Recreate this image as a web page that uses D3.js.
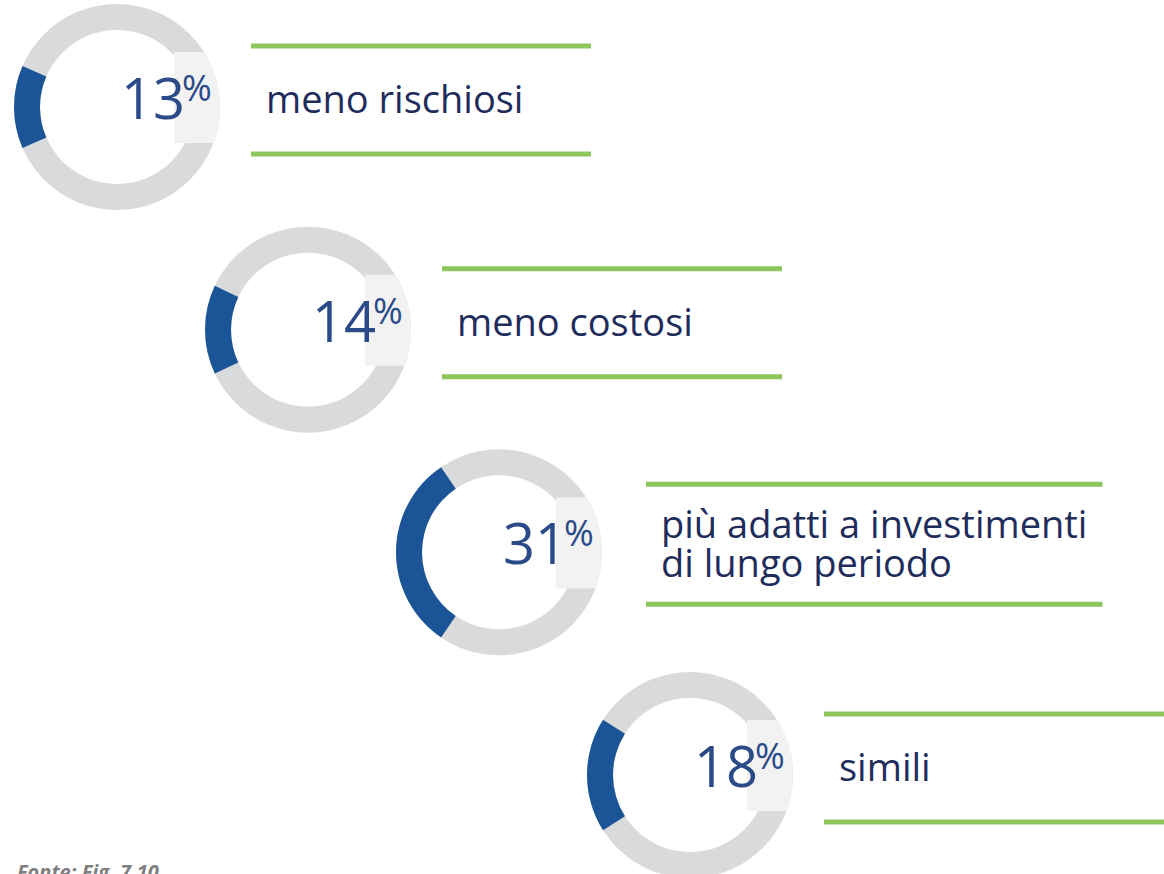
<!DOCTYPE html>
<html>
<head>
<meta charset="utf-8">
<script src="https://cdn.jsdelivr.net/npm/d3@7"></script>
<style>
  body { margin: 0; background: #fff; }
  svg { display: block; }
</style>
</head>
<body>
<script>
// data
const shares = [13, 14, 31, 18];
const labels = [
  ['meno rischiosi'],
  ['meno costosi'],
  ['più adatti a investimenti', 'di lungo periodo'],
  ['simili']
];
const source = 'Fonte: Fig. 7.10';

const W = 1164, H = 874;
const svg = d3.select('body').append('svg')
  .attr('width', W)
  .attr('height', H);

const idx = d3.range(shares.length);
// donuts step down diagonally
const x = d3.scalePoint().domain(idx).range([117, 690]);
const y = d3.scalePoint().domain(idx).range([107, 775]);
const ang = d3.scaleLinear().domain([0, 100]).range([0, 2 * Math.PI]);

const rOut = 103, rIn = 77;
const ring = d3.arc().innerRadius(rIn).outerRadius(rOut);

const defs = svg.append('defs');
defs.append('clipPath').attr('id', 'disc')
  .append('circle').attr('r', rOut);

const g = svg.selectAll('g.item')
  .data(idx)
  .join('g')
    .attr('class', 'item')
    .attr('transform', i => `translate(${x(i)},${y(i)})`);

// grey ring
g.append('path')
  .attr('d', ring({startAngle: 0, endAngle: 2 * Math.PI}))
  .attr('fill', '#d9dadc');

// light box behind the number, cut by the ring
g.append('rect')
  .attr('clip-path', 'url(#disc)')
  .attr('x', 57).attr('y', -55)
  .attr('width', 60).attr('height', 91)
  .attr('fill', '#f2f2f3');

// blue share, centred on the left side
g.append('path')
  .attr('d', i => ring({
    startAngle: -Math.PI / 2 - ang(shares[i]) / 2,
    endAngle: -Math.PI / 2 + ang(shares[i]) / 2
  }))
  .attr('fill', '#1c5597');

// number + percent
const num = g.append('text')
  .attr('x', 4).attr('y', 12)
  .attr('font-family', '"Open Sans", sans-serif')
  .attr('fill', '#2b4a88');
num.append('tspan')
  .attr('font-size', 56)
  .text(i => shares[i]);
num.append('tspan')
  .attr('font-size', 36)
  .attr('dx', -3).attr('dy', -18)
  .text('%');

// label text and green rules
g.each(function (i) {
  const el = d3.select(this);
  const lines = labels[i];
  const two = lines.length > 1;
  const lx = two ? 162 : 149;
  const top = two ? -68 : -61;
  const bot = two ? 52 : 47;

  const t = el.append('text')
    .attr('font-family', '"Open Sans", sans-serif')
    .attr('font-size', 38)
    .attr('fill', '#1f2d5c');
  t.selectAll('tspan')
    .data(lines)
    .join('tspan')
      .attr('x', lx)
      .attr('y', (d, k) => two ? -14 + k * 39 : 6)
      .text(d => d);

  const tw = t.node().getBBox().width;
  const len = Math.max(340, tw + 30);
  el.selectAll('line.rule')
    .data([top, bot])
    .join('line')
      .attr('class', 'rule')
      .attr('x1', lx - 15).attr('x2', lx - 15 + len)
      .attr('y1', d => d).attr('y2', d => d)
      .attr('stroke', '#8dc75b')
      .attr('stroke-width', 5);
});

svg.append('text')
  .attr('x', 17).attr('y', 879)
  .attr('font-family', '"Open Sans", sans-serif')
  .attr('font-size', 20)
  .attr('font-weight', 'bold')
  .attr('font-style', 'italic')
  .attr('fill', '#7f7f7f')
  .text(source);
</script>
</body>
</html>
